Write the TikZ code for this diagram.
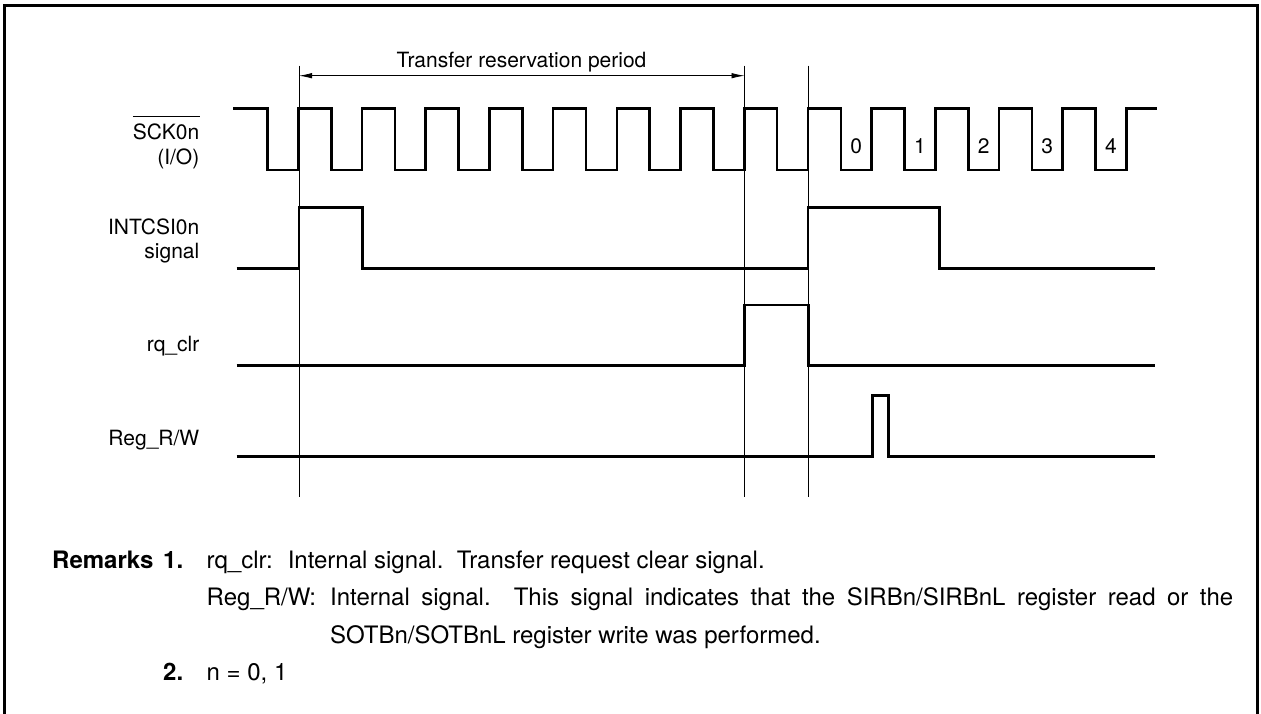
\documentclass[tikz,border=0pt]{standalone}
\usepackage{fontspec}
\setmainfont{TeX Gyre Heros}
\usetikzlibrary{arrows.meta}
\begin{document}
\begin{tikzpicture}[x=1pt,y=-1pt,
  sig/.style={line width=2.6pt, line join=miter},
  guide/.style={line width=0.9pt},
  frame/.style={line width=2.5pt},
  lbl/.style={inner sep=0pt, anchor=base east, font=\fontsize{21}{25}\selectfont},
  txt/.style={inner sep=0pt, anchor=base west, font=\fontsize{24}{28}\selectfont},
  boldtxt/.style={inner sep=0pt, anchor=base west, font=\fontsize{24}{28}\selectfont\bfseries},
  num/.style={inner sep=0pt, anchor=base, font=\fontsize{21}{25}\selectfont},
  dimarrow/.style={line width=0.8pt, {Latex[length=13pt,width=5.5pt]}-{Latex[length=13pt,width=5.5pt]}}]
\useasboundingbox (0,0) rectangle (1261,713);
\fill[white] (0,0) rectangle (1261,713);
% frame
\draw[frame] (4.7,720) -- (4.7,5.7) -- (1257.3,5.7) -- (1257.3,720);
% guide lines
\coordinate (g1t) at (299,65.5);   \coordinate (g1b) at (299,497);
\coordinate (g2t) at (744.5,65.5); \coordinate (g2b) at (744.5,497);
\coordinate (g3t) at (808.5,65.5); \coordinate (g3b) at (808.5,497);
\draw[guide] (g1t) -- (g1b);
\draw[guide] (g2t) -- (g2b);
\draw[guide] (g3t) -- (g3b);
% dimension arrow
\coordinate (arrL) at (299,75.7);
\coordinate (arrR) at (744.5,75.7);
\draw[dimarrow] (arrL) -- (arrR);
\node[num] (trp) at (521.5,67.3) {Transfer reservation period};
% labels
\node[lbl] (sck) at (199.5,139.2) {SCK0n};
\draw[line width=0.9pt] ([yshift=6.7pt]sck.north west) -- ([yshift=6.7pt]sck.north east);
\node[lbl] (io) at (199.5,164) {(I/O)};
\node[lbl] (intc) at (199.5,234.3) {INTCSI0n};
\node[lbl] (sigl) at (199.5,258.5) {signal};
\node[lbl] (rq) at (199.5,351.7) {rq\_clr};
\node[lbl] (reg) at (199.5,445) {Reg\_R/W};
% SCK waveform
\draw[sig] (233,108.3) foreach \k in {0,...,13} { -- ({267.5+63.7*\k},108.3) -- ({267.5+63.7*\k},170) -- ({298.3+63.7*\k},170) -- ({298.3+63.7*\k},108.3) } -- (1157,108.3);
\foreach \i in {0,...,4} {
  \node[num] (b\i) at ({282.9+63.7*(\i+9)},153) {\i};
}
% INTCSI0n
\draw[sig] (236.7,268.7) -- (299,268.7) -- (299,207.3) -- (362.7,207.3) -- (362.7,268.7) -- (808,268.7) -- (808,207.3) -- (939.3,207.3) -- (939.3,268.7) -- (1155,268.7);
% rq_clr
\draw[sig] (236.7,365.7) -- (744.5,365.7) -- (744.5,305) -- (808.5,305) -- (808.5,365.7) -- (1155,365.7);
% Reg_R/W
\draw[sig] (236.7,456.7) -- (872.3,456.7) -- (872.3,395.7) -- (888.3,395.7) -- (888.3,456.7) -- (1155,456.7);
% remarks
\node[boldtxt] (rem) at (52,568) {Remarks};
\node[boldtxt] (r1) at (163,568) {1.};
\node[txt] (l1) at (206.5,568) {rq\_clr:\hspace{15pt}Internal signal.\ \ Transfer request clear signal.};
\node[txt] (l2a) at (206.5,605.5) {Reg\_R/W:};
\node[txt] (l2b) at (330,605.5) {\makebox[903pt][s]{Internal signal.\ \ This signal indicates that the SIRBn/SIRBnL register read or the}};
\node[txt] (l3) at (330,643) {SOTBn/SOTBnL register write was performed.};
\node[boldtxt] (r2) at (163,680) {2.};
\node[txt] (l4) at (206.5,680) {n = 0, 1};
\end{tikzpicture}
\end{document}
